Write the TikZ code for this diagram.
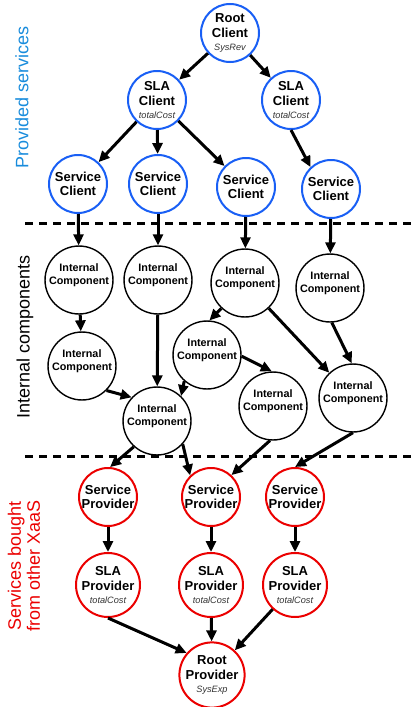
\documentclass[tikz,border=0pt]{standalone}
\usepackage{fontspec}
\setmainfont{Liberation Sans}
\usepackage{xcolor}
\usepackage{tikz}
\usetikzlibrary{arrows.meta}
\definecolor{clientblue}{RGB}{25,95,245}
\definecolor{labelblue}{RGB}{25,140,220}
\definecolor{provred}{RGB}{235,0,0}
\newcommand{\metric}[1]{\\[-1.5pt]{\fontsize{9.2}{10}\selectfont\mdseries\itshape\color{black!80}#1}}
\tikzset{
	base/.style={circle, minimum size=58pt, inner sep=0pt, align=center},
	client/.style={base, draw=clientblue, line width=2pt, font=\bfseries\fontsize{13}{14.5}\selectfont},
	comp/.style={base, draw, line width=1.4pt, minimum size=61pt, text depth=12pt, font=\bfseries\fontsize{10.8}{12.5}\selectfont},
	provider/.style={base, draw=provred, line width=2pt, font=\bfseries\fontsize{13}{14.5}\selectfont},
	link/.style={line width=3pt, -{Triangle[length=11pt,width=10pt]}},
	border/.style={line width=3pt, dash pattern=on 8pt off 6pt},
	side/.style={rotate=90, font=\fontsize{18}{19}\selectfont, align=center}
}

\begin{document}
\begin{tikzpicture}[x=1pt, y=-1pt]
	\useasboundingbox (0,0) rectangle (417,707);
	\node[side, text=labelblue] (provlbl) at (22,97) {Provided services};
	\node[side] (complbl) at (25,337) {Internal components};
	\node[side, text=provred] (boughtlbl) at (24,566) {Services bought\\from other XaaS};
	\coordinate (cut1a) at (25,223);
	\coordinate (cut1b) at (417,223);
	\coordinate (cut2a) at (25,456);
	\coordinate (cut2b) at (417,456);
	\draw[border] (cut1a) -- (cut1b);
	\draw[border] (cut2a) -- (cut2b);
	\node[client] (rootc) at (230,33) {Root\\Client\metric{SysRev}};
	\node[client] (slac1) at (157,100) {SLA\\Client\metric{totalCost}};
	\node[client] (slac2) at (291,100) {SLA\\Client\metric{totalCost}};
	\node[client] (svc1) at (78,184) {Service\\Client};
	\node[client] (svc2) at (158,184) {Service\\Client};
	\node[client] (svc3) at (246,187) {Service\\Client};
	\node[client] (svc4) at (331,189) {Service\\Client};
	\node[comp] (ic1) at (79,280) {Internal\\Component};
	\node[comp] (ic2) at (158,280) {Internal\\Component};
	\node[comp] (ic3) at (245,283) {Internal\\Component};
	\node[comp] (ic4) at (330,288) {Internal\\Component};
	\node[comp] (ic5) at (82,366) {Internal\\Component};
	\node[comp] (ic6) at (207,355) {Internal\\Component};
	\node[comp] (ic7) at (157,421) {Internal\\Component};
	\node[comp] (ic8) at (273,406) {Internal\\Component};
	\node[comp] (ic9) at (353,398) {Internal\\Component};
	\node[provider] (svp1) at (108,497) {Service\\Provider};
	\node[provider] (svp2) at (211,497) {Service\\Provider};
	\node[provider] (svp3) at (295,497) {Service\\Provider};
	\node[provider] (slap1) at (108,585) {SLA\\Provider\metric{totalCost}};
	\node[provider] (slap2) at (211,585) {SLA\\Provider\metric{totalCost}};
	\node[provider] (slap3) at (295,585) {SLA\\Provider\metric{totalCost}};
	\node[provider] (rootp) at (212,675) {Root\\Provider\metric{SysExp}};
	\draw[link] (rootc) -- (slac1);
	\draw[link] (rootc) -- (slac2);
	\draw[link] (slac1) -- (svc1);
	\draw[link] (slac1) -- (svc2);
	\draw[link] (slac1) -- (svc3);
	\draw[link] (slac2.-90) -- (svc4.133);
	\draw[link] (svc1) -- (ic1);
	\draw[link] (svc2) -- (ic2);
	\draw[link] (svc3) -- (ic3);
	\draw[link] (svc4) -- (ic4);
	\draw[link] (ic1) -- (ic5);
	\draw[link] (ic5.-45) -- (ic7.137);
	\draw[link] (ic2) -- (ic7);
	\draw[link] (ic3.-133) -- (ic6.86);
	\draw[link] (ic3) -- (ic9);
	\draw[link] (ic6.-131) -- (ic7.46);
	\draw[link] (ic6.-2) -- (ic8.92);
	\draw[link] (ic4.-87) -- (ic9.92);
	\draw[link] (ic7.-132) -- (svp1.86);
	\draw[link] (ic7.-42) -- (svp2.134);
	\draw[link] (ic8.-95) -- (svp2.47);
	\draw[link] (ic9.-90) -- (svp3.90);
	\draw[link] (svp1) -- (slap1);
	\draw[link] (svp2) -- (slap2);
	\draw[link] (svp3) -- (slap3);
	\draw[link] (slap1.-90) -- (rootp.139);
	\draw[link] (slap2) -- (rootp);
	\draw[link] (slap3) -- (rootp);
\end{tikzpicture}
\end{document}
